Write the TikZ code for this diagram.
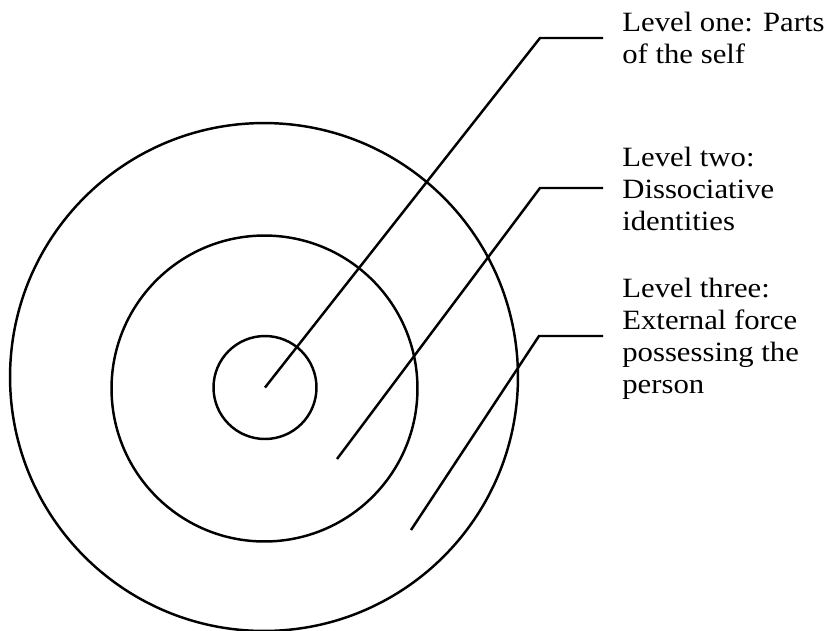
\documentclass[tikz,border=0pt]{standalone}
\usepackage{fontspec}
\setmainfont{Liberation Serif}[FakeStretch=1.1]
\tikzset{
  ring/.style={draw, circle, line width=1.4pt, inner sep=0pt},
  leader/.style={line width=1.4pt},
  levellabel/.style={anchor=base west, align=left, inner xsep=10.8pt, inner ysep=0pt,
    font=\fontsize{15.9}{18.2}\selectfont}
}
\begin{document}
\begin{tikzpicture}[x=0.02cm,y=-0.02cm]
  \useasboundingbox (0,0) rectangle (832,630);
  % the three levels
  \node[ring, minimum size=10.16cm] (outer) at (264,377) {};
  \node[ring, minimum size=6.12cm] (middle) at (264.5,388.5) {};
  \node[ring, minimum size=2.06cm] (inner) at (265,387.5) {};
  % labels (placed by the baseline of their last line)
  \node[levellabel] (one) at (603,63) {Level one: Parts\\of the self};
  \node[levellabel] (two) at (603,230) {Level two:\\Dissociative\\identities};
  \node[levellabel] (three) at (603,393) {Level three:\\External force\\possessing the\\person};
  % leaders
  \coordinate (p2) at (337,459);
  \coordinate (p3) at (411,530);
  \coordinate (k1) at (540,38);
  \coordinate (k2) at (540,188);
  \coordinate (k3) at (539,336);
  \draw[leader] (inner.center) -- (k1) -- (k1 -| one.west);
  \draw[leader] (p2) -- (k2) -- (k2 -| two.west);
  \draw[leader] (p3) -- (k3) -- (k3 -| three.west);
\end{tikzpicture}
\end{document}
